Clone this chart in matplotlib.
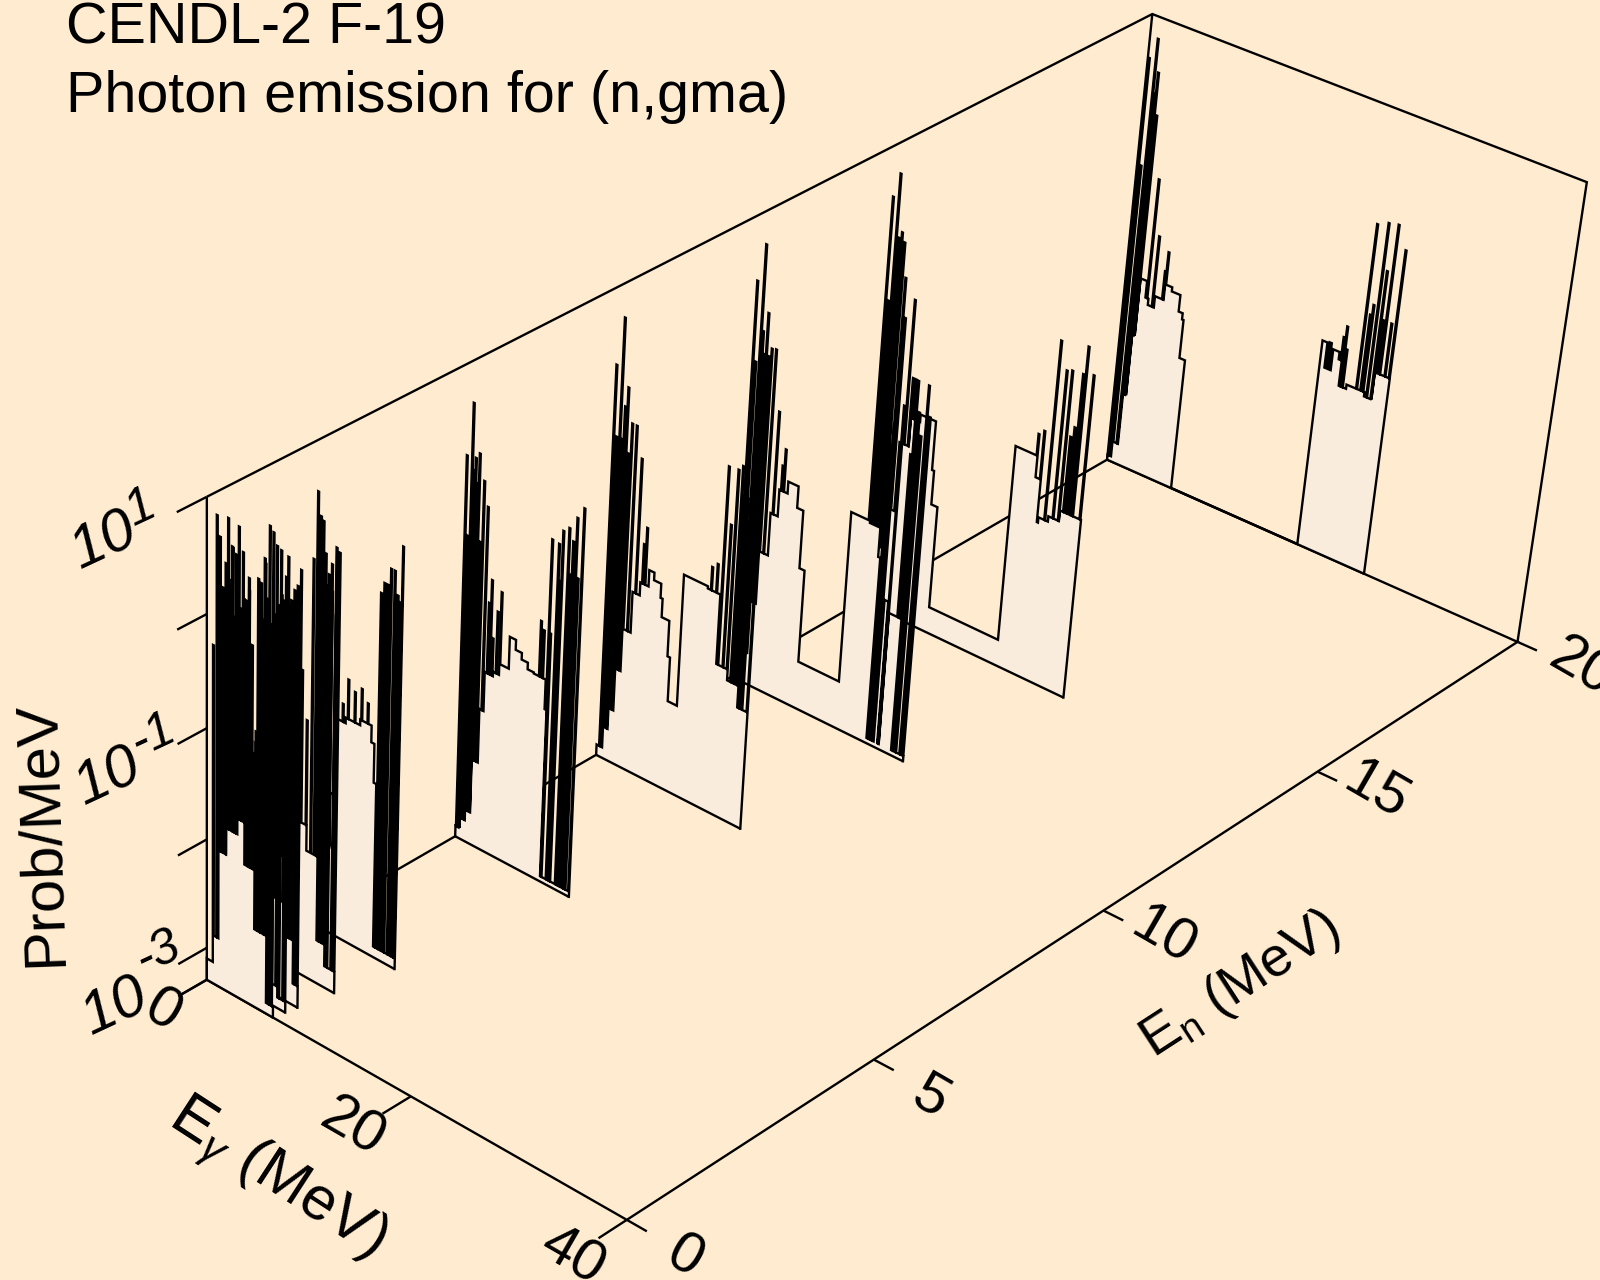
import numpy as np
import matplotlib
matplotlib.use('Agg')
import matplotlib.pyplot as plt

plt.rcParams['font.family'] = ['Liberation Sans', 'DejaVu Sans']
plt.rcParams['mathtext.fontset'] = 'custom'
plt.rcParams['mathtext.rm'] = 'Liberation Sans'
plt.rcParams['mathtext.it'] = 'Liberation Sans:italic'

BG = '#FFECD0'
FILL = '#F9ECDC'
LW = 1.7

# axis ranges
EN_MAX = 20.0
EG_MAX = 40.0
Z_MIN = -3.3   # log10 of the floor
Z_MAX = 1.0

# each spectrum: stepped continuum + narrow lines (log10 Prob/MeV)
en0_max = 6.6
en0_cont_eg = [0, 0.6, 1.15, 1.9, 3.0, 3.7, 4.7, 5.9]
en0_cont_z = [-3.1, -2.85, -2.04, -1.8, -1.66, -2.04, -2.58, -3.2]
en0_line_eg = [0.6, 0.95, 1.25, 1.5, 1.8, 2.05, 2.4, 2.6, 2.8, 3.05, 3.3, 3.6, 3.9, 4.1, 4.4, 4.6, 4.9, 5.2, 5.5, 5.8, 6.1, 6.4]
en0_line_z = [-0.24, 0.89, 0.72, 0.3, 0.52, 0.2, 0.69, 0.1, 0.64, -0.1, 0.2, 0.0, -0.3, -0.2, -1.0, -1.0, 0.53, 0.2, 0.73, 0.4, 0.2, 0.3]

en02_max = 6.8
en02_cont_eg = [0, 1.0, 2.0, 3.2, 4.2, 5.2, 6.0]
en02_cont_z = [-3.2, -2.7, -2.1, -2.3, -2.6, -3.1, -3.2]
en02_line_eg = [1.0, 1.25, 1.45, 1.8, 2.1, 2.5, 3.0, 3.3, 3.7, 4.2, 4.6, 5.0, 5.4, 5.8, 6.1, 6.5, 6.7]
en02_line_z = [0.82, 0.3, 0.59, 0.54, 0.1, 0.2, 0.4, -1.0, -1.0, -0.3, -0.1, 0.1, 0.2, 0.3, 0.4, 0.57, 0.75]

en04_max = 7.0
en04_cont_eg = [0, 1.2, 2.4, 3.6, 4.6, 5.6, 6.5]
en04_cont_z = [-3.2, -2.6, -2.2, -1.9, -2.4, -2.7, -3.1]
en04_line_eg = [1.0, 1.4, 1.7, 2.0, 2.3, 2.7, 3.1, 3.6, 4.0, 4.5, 5.0, 5.4, 5.7, 6.0, 6.3, 6.6, 6.9]
en04_line_z = [0.7, 0.5, 0.1, 0.2, -0.26, -1.0, -0.2, -0.5, -0.6, -0.6, -0.4, 0.0, 0.2, 0.3, 0.4, 0.45, 0.6]

en1_max = 7.6
en1_cont_eg = [0, 0.9, 1.7, 2.6, 4.7, 5.8, 6.5]
en1_cont_z = [-3.2, -2.9, -2.3, -1.9, -2.13, -2.9, -3.1]
en1_line_eg = [0.1, 0.5, 0.9, 1.25, 1.6, 2.0, 2.3, 2.7, 3.1, 3.6, 4.1, 4.6, 5.6, 5.9, 6.2, 6.5, 6.8, 7.2, 7.5]
en1_line_z = [0.03, 0.22, 0.56, 0.52, 0.42, 0.4, -0.02, -0.1, -0.2, -0.3, -0.54, -0.96, -0.3, 0.0, 0.3, 0.4, 0.5, 0.66, 0.63]

en2_max = 8.6
en2_cont_eg = [0, 0.5, 1.0, 2.0, 2.5, 3.4, 4.8, 5.9, 6.2, 6.45]
en2_cont_z = [-3.2, -3.0, -2.5, -2.0, -1.3, -1.25, -1.2, -1.35, -1.7, -3.2]
en2_line_eg = [0.1, 0.45, 0.75, 1.0, 1.25, 1.6, 1.9, 2.3, 3.1, 3.6, 4.25, 4.9, 5.5, 6.55, 6.85, 7.15, 7.45, 7.8, 8.1, 8.35, 8.52]
en2_line_z = [0.0, 0.6, 0.4, 0.37, 0.1, -0.2, -0.2, -0.4, -1.14, -0.9, -0.98, -0.92, -1.02, 0.0, 0.1, 0.1, 0.25, 0.25, 0.05, 0.0, 0.49]

en5_max = 11.3
en5_cont_eg = [0, 0.4, 0.9, 1.4, 2.0, 2.4, 3.2, 3.8, 4.7, 5.3, 5.9, 6.5, 7.1, 8.25, 8.35]
en5_cont_z = [-3.2, -3.1, -3.0, -2.5, -2.0, -1.64, -1.6, -1.5, -1.21, -1.3, -1.36, -1.42, -1.43, -1.7, -3.25]
en5_line_eg = [0.05, 0.3, 0.56, 0.75, 0.92, 1.1, 1.28, 1.5, 1.78, 2.2, 2.6, 2.82, 3.06, 3.46, 3.78, 7.6, 7.9, 8.35, 8.5, 9.0, 9.2, 9.35, 9.9, 10.1, 10.3, 10.6, 10.85, 11.2]
en5_line_z = [0.2, -0.5, 0.68, 0.1, 0.215, 0.0, 0.27, -0.5, 0.05, -0.16, -1.0, -0.785, -1.3, -1.04, -0.85, -0.93, -1.0, -0.17, -1.0, -0.18, -0.5, -0.05, 0.0, -0.4, -0.1, 0.12, -0.4, 0.23]

en8_max = 14.3
en8_cont_eg = [0, 0.6, 1.0, 1.5, 2.0, 2.8, 3.5, 4.3, 4.8, 5.5, 5.7, 6.45, 6.7, 7.6, 9.9, 11.1, 12.2, 13.3]
en8_cont_z = [-3.2, -3.0, -2.8, -2.4, -2.0, -1.62, -1.5, -1.35, -1.42, -1.55, -1.72, -2.05, -2.46, -1.24, -1.26, -1.9, -2.0, -2.2]
en8_line_eg = [0.25, 0.55, 0.84, 1.05, 1.25, 1.48, 1.75, 2.0, 2.44, 3.06, 3.67, 3.9, 10.2, 10.7, 11.2, 11.7, 12.1, 12.5, 12.8, 13.1, 13.4, 13.7, 14.2]
en8_line_z = [0.33, -0.3, 0.77, -0.3, 0.0, 0.18, -0.4, -0.12, -0.12, -0.39, -1.14, -0.98, -1.05, -1.0, -0.1, -0.6, -0.09, -0.04, -0.4, -0.3, -0.6, -0.3, -0.1]

en11_max = 17.0
en11_cont_eg = [0, 0.8, 1.4, 2.0, 2.8, 3.5, 4.3, 5.3, 5.9, 6.4, 10.4, 12.2, 13.2, 13.4, 14.1, 14.45, 14.6, 15.8]
en11_cont_z = [-3.2, -3.0, -2.5, -2.0, -1.6, -1.35, -1.24, -1.44, -1.98, -2.85, -1.25, -1.27, -1.54, -3.25, -1.9, -3.25, -2.0, -3.25]
en11_line_eg = [0.17, 0.45, 0.8, 1.0, 1.2, 1.41, 1.7, 1.93, 2.34, 3.0, 3.66, 3.86, 13.5, 13.7, 13.9, 14.5, 15.4, 15.6, 15.9, 16.2, 16.6, 16.9]
en11_line_z = [0.42, -0.3, 0.77, 0.0, -0.2, 0.18, -0.2, -0.12, -0.11, -0.65, -1.12, -0.96, -0.5, -0.3, 0.0, -0.1, -0.5, 0.17, -0.1, -0.3, 0.17, -0.1]

en14_max = 20.0
en14_cont_eg = [0, 0.8, 1.5, 2.5, 3.4, 4.3, 5.8, 6.0, 6.6, 13.4, 15.4, 15.9, 16.1, 17.0, 18.0]
en14_cont_z = [-3.2, -2.7, -2.3, -1.64, -1.37, -1.3, -1.76, -2.08, -3.05, -1.2, -1.4, -1.8, -1.75, -1.7, -1.6]
en14_line_eg = [0.1, 0.35, 0.65, 0.95, 1.2, 1.5, 1.85, 2.1, 2.9, 3.3, 3.6, 15.4, 15.9, 16.65, 17.4, 17.9, 18.3, 18.6, 18.9, 19.15, 19.85]
en14_line_z = [0.54, -0.4, 0.77, 0.2, 0.26, 0.18, -0.13, -0.49, -0.29, -1.0, -1.0, -1.0, -0.95, -0.09, -0.33, -0.31, -0.9, -0.8, -0.3, -0.04, -0.27]

en20_max = 25.5
en20_cont_eg = [0, 0.4, 0.9, 1.2, 1.45, 2.1, 2.4, 3.0, 3.9, 4.55, 5.4, 5.8, 5.95, 6.5, 19.03, 19.5, 19.7, 19.9, 20.1, 20.7, 21.0, 21.7, 23.4, 24.1]
en20_cont_z = [-3.25, -3.1, -2.6, -2.0, -1.44, -1.6, -1.66, -1.55, -1.4, -1.44, -1.6, -1.66, -2.03, -3.3, -1.31, -1.55, -1.3, -1.55, -1.35, -1.42, -1.66, -1.62, -1.66, -1.4]
en20_line_eg = [0.1, 0.35, 0.75, 0.95, 1.1, 1.35, 2.2, 2.8, 3.7, 3.85, 20.9, 21.1, 21.3, 22.6, 23.0, 23.2, 23.6, 24.0, 24.2, 24.5, 25.0, 25.4]
en20_line_z = [0.6, -0.4, 0.8, 0.3, 0.5, 0.11, -0.46, -0.98, -1.28, -1.09, -1.2, -1.09, -1.3, -0.07, -0.9, -0.8, -0.02, -0.45, -0.9, 0.0, -0.9, -0.2]

# back to front
spectra = [
    (20.0, en20_max, en20_cont_eg, en20_cont_z, en20_line_eg, en20_line_z),
    (14.0, en14_max, en14_cont_eg, en14_cont_z, en14_line_eg, en14_line_z),
    (11.0, en11_max, en11_cont_eg, en11_cont_z, en11_line_eg, en11_line_z),
    (8.0, en8_max, en8_cont_eg, en8_cont_z, en8_line_eg, en8_line_z),
    (5.0, en5_max, en5_cont_eg, en5_cont_z, en5_line_eg, en5_line_z),
    (2.0, en2_max, en2_cont_eg, en2_cont_z, en2_line_eg, en2_line_z),
    (1.0, en1_max, en1_cont_eg, en1_cont_z, en1_line_eg, en1_line_z),
    (0.4, en04_max, en04_cont_eg, en04_cont_z, en04_line_eg, en04_line_z),
    (0.2, en02_max, en02_cont_eg, en02_cont_z, en02_line_eg, en02_line_z),
    (0.0, en0_max, en0_cont_eg, en0_cont_z, en0_line_eg, en0_line_z),
]

# where known points of the box land on the page, used to fit the perspective
box_en = [0, 0, 20, 20, 0, 20, 20, 0, 10]
box_eg = [0, 40, 40, 0, 0, 0, 40, 20, 40]
box_z = [Z_MIN, Z_MIN, Z_MIN, Z_MIN, Z_MAX, Z_MAX, Z_MAX, Z_MIN, Z_MIN]
box_px = [(207, 980), (625.5, 1219), (1517, 643), (1107, 459), (207, 497),
          (1152, 14), (1587, 182), (411, 1097), (1105, 910)]


def unit(en, eg, z):
    return en / EN_MAX, eg / EG_MAX, (z - Z_MIN) / (Z_MAX - Z_MIN)


rows = []
for en, eg, z, (u, v) in zip(box_en, box_eg, box_z, box_px):
    a, b, c = unit(en, eg, z)
    u, v = u / 1000, v / 1000
    rows.append([a, b, c, 1, 0, 0, 0, 0, -u * a, -u * b, -u * c, -u])
    rows.append([0, 0, 0, 0, a, b, c, 1, -v * a, -v * b, -v * c, -v])
P = np.linalg.svd(np.array(rows))[2][-1].reshape(3, 4)


def project(en, eg, z):
    a, b, c = unit(np.asarray(en, float), np.asarray(eg, float), np.asarray(z, float))
    h = P @ np.array([a, b, c, np.ones_like(a)])
    return 1000 * h[0] / h[2], 1000 * h[1] / h[2]


def steps(emax, cont_eg, cont_z, line_eg, line_z, width=0.09):
    # merge continuum and lines into one histogram
    edges = set(cont_eg) | {emax}
    for e in line_eg:
        edges |= {e, min(e + width, emax)}
    edges = np.array(sorted(e for e in edges if e <= emax))
    mids = (edges[:-1] + edges[1:]) / 2
    vals = np.array(cont_z)[np.searchsorted(cont_eg, mids) - 1]
    for e, z in zip(line_eg, line_z):
        on = (mids >= e) & (mids <= e + width)
        vals[on] = np.maximum(vals[on], z)
    vals = np.maximum(vals, Z_MIN)
    xs = np.repeat(edges, 2)
    zs = np.concatenate([[Z_MIN], np.repeat(vals, 2), [Z_MIN]])
    return xs, zs


def line3d(en, eg, z, zorder=1):
    x, y = project(en, eg, z)
    ax.plot(x, y, color='black', lw=LW, solid_joinstyle='miter', solid_capstyle='butt', zorder=zorder)


fig = plt.figure(figsize=(16, 12.8), dpi=100, facecolor=BG)
ax = fig.add_axes([0, 0, 1, 1])
ax.set_xlim(0, 1600)
ax.set_ylim(1280, 0)
ax.axis('off')

# box behind the data
line3d([0, 0], [0, 0], [Z_MIN, Z_MAX])
line3d([0, 20, 20, 20], [0, 0, 40, 40], [Z_MAX, Z_MAX, Z_MAX, Z_MIN])
line3d([20, 20], [0, 0], [Z_MIN, Z_MAX])
line3d([0, 20, 20, 0, 0], [0, 0, 40, 40, 0], [Z_MIN] * 5)

# ticks
for t in [1, 0, -1, -2, -3, Z_MIN]:
    line3d([0, -0.55], [0, 0], [t, t])
for t in [0, 20, 40]:
    line3d([0, -0.55], [t, t], [Z_MIN, Z_MIN])
for t in [0, 5, 10, 15, 20]:
    line3d([t, t], [40, 41.8], [Z_MIN, Z_MIN])

# spectra
for i, (en, emax, cont_eg, cont_z, line_eg, line_z) in enumerate(spectra):
    xs, zs = steps(emax, cont_eg, cont_z, line_eg, line_z)
    x, y = project(np.full(len(xs), en), xs, zs)
    ax.fill(x, y, color=FILL, lw=0, zorder=2 + i)
    ax.plot(x, y, color='black', lw=LW, solid_joinstyle='miter', zorder=2 + i)
    line3d([en, en], [0, emax], [Z_MIN, Z_MIN], zorder=2 + i)

# titles
ax.text(66, 43, 'CENDL-2 F-19', fontsize=41.4, va='baseline', ha='left')
ax.text(66, 112, 'Photon emission for (n,gma)', fontsize=41.4, va='baseline', ha='left')

# z axis labels
for xt, yt in [(104, 541), (108, 777), (115, 1007)]:
    ax.text(xt, yt, '10', fontsize=43, style='italic', rotation=25, ha='center', va='center')
for exp, xt, yt in [('1', 141, 508), ('-1', 153, 736), ('-3', 158, 953)]:
    ax.text(xt, yt, exp, fontsize=36, style='italic', rotation=25, ha='center', va='center')
ax.text(41, 834, 'Prob/MeV', fontsize=43, rotation=92, ha='center', va='center')

# energy tick labels
for s, xt, yt in [('0', 163, 1012), ('20', 352, 1128), ('40', 572, 1257)]:
    ax.text(xt, yt, s, fontsize=42, rotation=-30, ha='center', va='center')
for s, xt, yt in [('0', 685, 1258), ('5', 931, 1098), ('10', 1163, 937), ('15', 1376, 791), ('20', 1581, 668)]:
    ax.text(xt, yt, s, fontsize=42, rotation=-30, ha='center', va='center')

ax.text(276, 1180, r'E$_{\gamma}$ (MeV)', fontsize=44, rotation=-33, ha='center', va='center')
ax.text(1240, 985, r'E$_{\mathrm{n}}$ (MeV)', fontsize=40, rotation=33, ha='center', va='center')

fig.savefig('out.png', dpi=100, facecolor=BG)
